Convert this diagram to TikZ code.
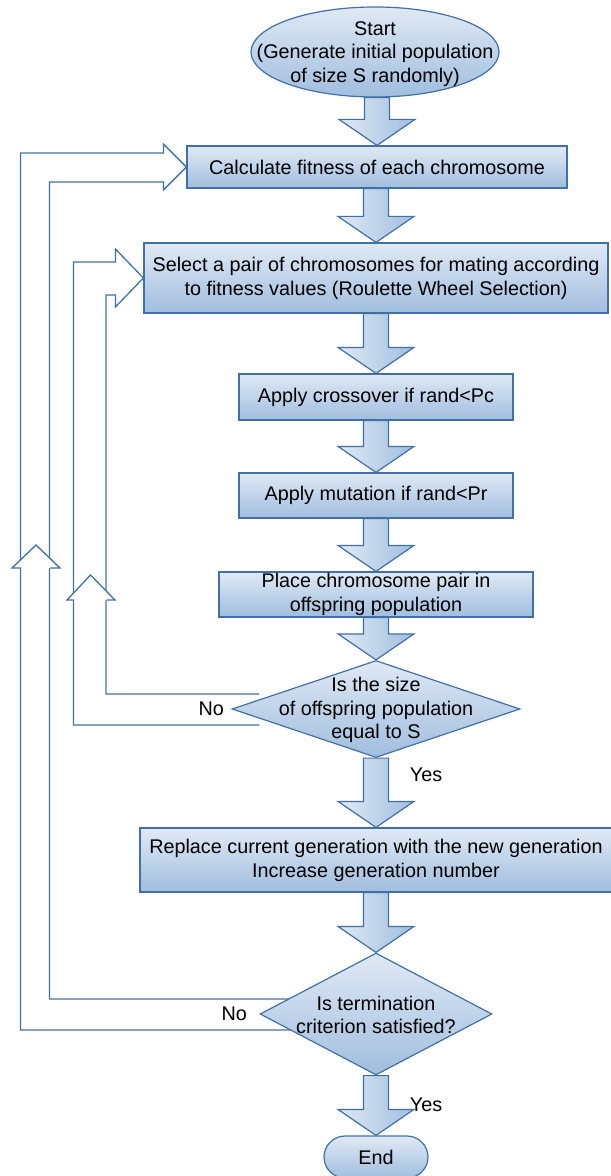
\documentclass[tikz,border=0pt]{standalone}
\usepackage{fontspec}
\setmainfont{Liberation Sans}
\usetikzlibrary{shapes.geometric,positioning,calc,backgrounds}
\definecolor{gaLine}{RGB}{65,113,164}
\definecolor{gaTop}{RGB}{224,233,245}
\definecolor{gaBottom}{RGB}{160,190,222}

% block arrow from the bottom of one node to the top of the next
\newcommand{\flowarrow}[2]{%
  \draw[flow] let \p1=(#1.south), \p2=(#2.north) in
    (\x2-6.25pt,\y1) -- (\x2+6.25pt,\y1) -- (\x2+6.25pt,\y2+13pt)
    -- (\x2+19pt,\y2+13pt) -- (\x2,\y2) -- (\x2-19pt,\y2+13pt)
    -- (\x2-6.25pt,\y2+13pt) -- cycle;}

\begin{document}
\begin{tikzpicture}[
        x=0.5pt, y=-0.5pt,
        font=\fontsize{9.9pt}{11.9pt}\selectfont,
        procbox/.style={rectangle, draw=gaLine, line width=0.6pt, top color=gaTop, bottom color=gaBottom, align=center, inner sep=0pt},
        startnode/.style={ellipse, draw=gaLine, line width=0.6pt, top color=gaTop, bottom color=gaBottom, inner sep=0pt, minimum width=124pt, minimum height=45pt},
        decision/.style={diamond, draw=gaLine, line width=0.6pt, top color=gaTop, bottom color=gaBottom, inner sep=0pt},
        endnode/.style={rectangle, rounded corners=10.5pt, draw=gaLine, line width=0.6pt, top color=gaTop, bottom color=gaBottom, inner sep=0pt, minimum width=52pt, minimum height=21pt},
        flow/.style={draw=gaLine, line width=0.6pt, left color=gaTop, right color=gaBottom},
        loopline/.style={draw=gaLine, line width=0.65pt},
        lbl/.style={inner sep=0pt},
    ]
        \useasboundingbox (0,0) rectangle (610,1176);

        % Main column
        \node[startnode] (start) at (375,52) {};
        \node[align=center] (starttext) at (375,54) {Start\\(Generate initial population\\of size S randomly)};
        \node[procbox, minimum width=190pt, minimum height=21pt] (calc) at (377,167) {Calculate fitness of each chromosome};
        \node[procbox, minimum width=232pt, minimum height=35pt] (select) at (376,278) {Select a pair of chromosomes for mating according\\to fitness values (Roulette Wheel Selection)};
        \node[procbox, minimum width=137pt, minimum height=23pt] (cross) at (376,397) {Apply crossover if rand<Pc};
        \node[procbox, minimum width=137pt, minimum height=22.5pt] (mut) at (376,495.5) {Apply mutation if rand<Pr};
        \node[procbox, minimum width=157pt, minimum height=22.5pt] (place) at (376,594.5) {Place chromosome pair in\\offspring population};
        \node[decision, minimum width=144pt, minimum height=48.5pt] (size) at (376,709) {};
        \node[align=center] (sizetext) at (376,710) {Is the size\\of offspring population\\equal to S};
        \node[procbox, minimum width=236pt, minimum height=32pt] (repl) at (376,860) {Replace current generation with the new generation\\Increase generation number};
        \node[decision, minimum width=116pt, minimum height=61pt] (term) at (376,1014) {};
        \node[align=center] (termtext) at (376,1015) {Is termination\\criterion satisfied?};
        \node[endnode] (end) at (376,1157) {End};

        % Feedback loops
        \begin{scope}[on background layer]
            \draw[loopline] ($(term.west)+(40,16)$) -- ++(-279,0) |- ($(calc.west)+(-23,-14)$) -- ++(0,-9) -- (calc.west) -- ++(-23,23) -- ++(0,-8) -| ($(term.west)+(-210,-15)$) -- ++(250,0);
            \filldraw[loopline, fill=white] (21,568) -- (12,568) -- (36,545) -- (60,568) -- (50,568);
            \draw[loopline] ($(size.west)+(28,16)$) -- ++(-186,0) |- ($(select.west)+(-28,-16)$) -- ++(0,-13) -- (select.west) -- ++(-28,29) -- ++(0,-12) -| ($(size.west)+(-125.5,-15)$) -- ++(153.5,0);
            \filldraw[loopline, fill=white] (74,600) -- (67,600) -- (90.5,575) -- (115,600) -- (106.5,600);
        \end{scope}

        % Arrows
        \foreach \a/\b in {start/calc, calc/select, select/cross, cross/mut, mut/place, place/size, size/repl, repl/term, term/end} {
            \flowarrow{\a}{\b}
        }

        % Labels
        \node[lbl, left=3.5pt of size.west] (no1) {No};
        \node[lbl] (yes1) at ($(size.south)+(50,17)$) {Yes};
        \node[lbl, left=6pt of term.west] (no2) {No};
        \node[lbl] (yes2) at ($(term.south)+(50,29)$) {Yes};
    \end{tikzpicture}
\end{document}
